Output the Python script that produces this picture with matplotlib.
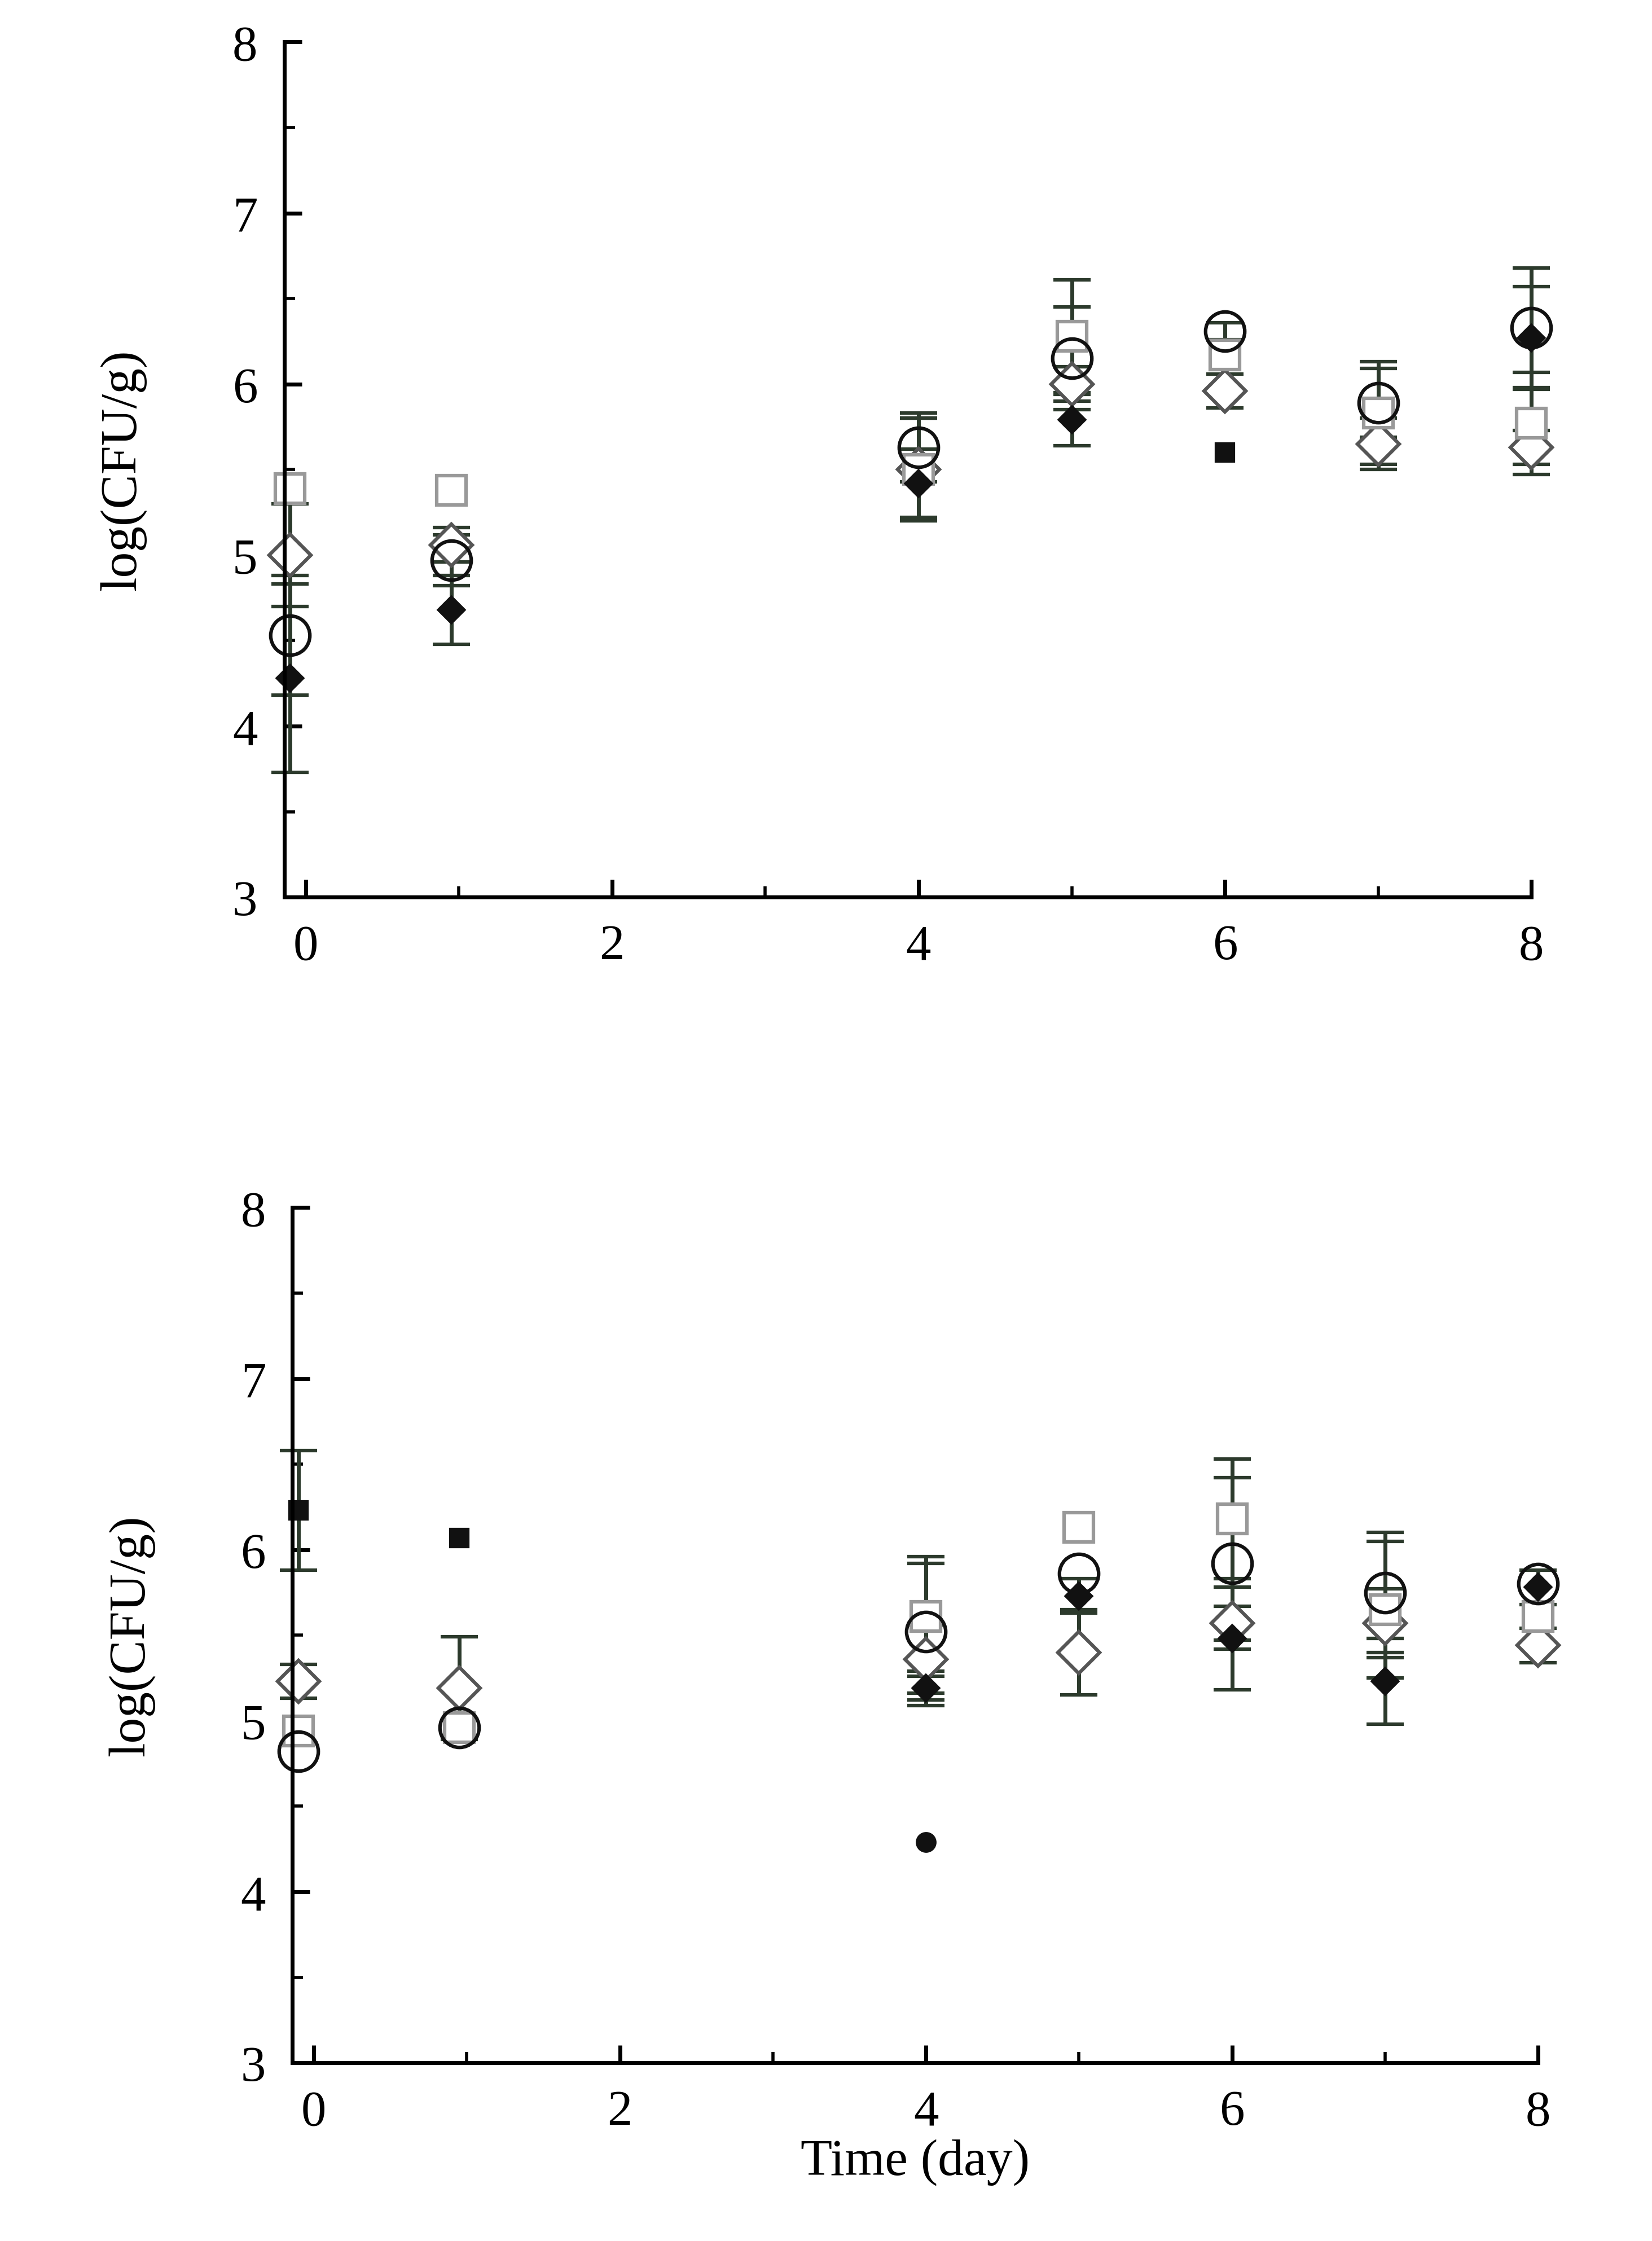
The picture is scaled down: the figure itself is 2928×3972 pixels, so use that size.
import numpy as np
import matplotlib.pyplot as plt
from matplotlib.ticker import MultipleLocator

plt.rcParams['font.family'] = ['Liberation Serif', 'DejaVu Serif']

days = [-0.1, 0.95, 4, 5, 6, 7, 8]
nan = np.nan

# top panel
top_square = [5.39, 5.38, 5.5, 6.28, 6.17, 5.83, 5.77]
top_square_err = [nan, nan, 0.3, 0.33, nan, 0.3, 0.3]
top_circle = [4.53, 4.97, 5.63, 6.15, 6.31, 5.89, 6.33]
top_circle_err = [0.35, 0.15, 0.2, 0.3, 0.05, 0.2, 0.35]
top_diamond = [5.0, 5.06, 5.5, 6.0, 5.96, 5.65, 5.63]
top_diamond_err = [0.3, 0.1, 0.3, 0.1, 0.1, 0.15, 0.1]
top_filled = [4.28, 4.68, 5.42, 5.79, nan, nan, 6.27]
top_filled_err = [0.55, 0.2, 0.2, 0.15, nan, nan, 0.3]
top_fsquare = [nan, nan, nan, nan, 5.6, nan, nan]

# bottom panel
bot_square = [4.94, 4.96, 5.61, 6.13, 6.18, 5.65, 5.61]
bot_square_err = [nan, nan, 0.35, nan, 0.35, 0.4, nan]
bot_circle = [4.82, 4.96, 5.52, 5.86, 5.92, 5.75, 5.8]
bot_circle_err = [nan, nan, 0.4, nan, 0.5, 0.35, nan]
bot_diamond = [5.23, 5.19, 5.36, 5.4, 5.57, 5.57, 5.44]
bot_diamond_err = [0.1, 0.3, 0.2, 0.25, 0.1, 0.2, 0.1]
bot_filled = [nan, nan, 5.19, 5.73, 5.48, 5.23, 5.78]
bot_filled_err = [nan, nan, 0.1, 0.1, 0.3, 0.25, 0.1]
bot_fsquare = [6.23, 6.07, nan, nan, nan, nan, nan]
bot_fsquare_err = [0.35, nan, nan, nan, nan, nan, nan]
bot_fcircle = [nan, nan, 4.29, nan, nan, nan, nan]

fig = plt.figure(figsize=(29.28, 39.73), dpi=100)
ax1 = fig.add_axes([0.172, 0.5995, 0.755, 0.3815])
ax2 = fig.add_axes([0.177, 0.0795, 0.754, 0.3815])

ms = 50
ebk = dict(capsize=24, elinewidth=5, capthick=5, linestyle='none')


def draw(ax, series):
    for y, err, marker, fc, ec, size in series:
        cont = ax.errorbar(days, y, yerr=err, ecolor='#2c3a2c', marker=marker,
                           markersize=size, markerfacecolor=fc, markeredgecolor=ec,
                           markeredgewidth=4.5, **ebk)
        for art in cont.get_children():
            art.set_clip_on(False)


draw(ax1, [
    (top_diamond, top_diamond_err, 'D', 'white', '#555555', ms * 0.75),
    (top_square, top_square_err, 's', 'white', '#999999', ms * 0.75),
    (top_circle, top_circle_err, 'o', 'none', '#111111', ms),
    (top_filled, top_filled_err, 'D', '#111111', '#111111', 22),
    (top_fsquare, None, 's', '#111111', '#111111', 22),
])
draw(ax2, [
    (bot_diamond, bot_diamond_err, 'D', 'white', '#555555', ms * 0.75),
    (bot_square, bot_square_err, 's', 'white', '#999999', ms * 0.75),
    (bot_circle, bot_circle_err, 'o', 'none', '#111111', ms),
    (bot_filled, bot_filled_err, 'D', '#111111', '#111111', 22),
    (bot_fsquare, bot_fsquare_err, 's', '#111111', '#111111', 22),
    (bot_fcircle, None, 'o', '#111111', '#111111', 22),
])

for ax in (ax1, ax2):
    ax.set_xlim(-0.14, 8.0)
    ax.set_ylim(3, 8)
    ax.set_xticks([0, 2, 4, 6, 8])
    ax.set_yticks([3, 4, 5, 6, 7, 8])
    ax.xaxis.set_minor_locator(MultipleLocator(1))
    ax.yaxis.set_minor_locator(MultipleLocator(0.5))
    ax.spines['top'].set_visible(False)
    ax.spines['right'].set_visible(False)
    for s in ('left', 'bottom'):
        ax.spines[s].set_linewidth(5)
    ax.tick_params(direction='in', which='major', length=22, width=5,
                   labelsize=64, pad=34)
    ax.tick_params(direction='in', which='minor', length=14, width=4)
    ax.set_ylabel('log(CFU/g)', fontsize=66, labelpad=110)

ax2.set_xlabel('Time (day)', fontsize=66, labelpad=4)

fig.savefig('out.png', dpi=100)
